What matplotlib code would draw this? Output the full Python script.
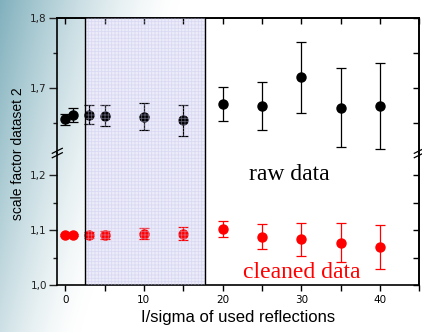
import numpy as np
import matplotlib
matplotlib.use("Agg")
import matplotlib.pyplot as plt
from matplotlib.lines import Line2D
from matplotlib.ticker import MultipleLocator, FuncFormatter

# ---------------- data ----------------
x_vals = [0, 1, 3, 5, 10, 15, 20, 25, 30, 35, 40]
raw_vals = [1.655, 1.661, 1.662, 1.660, 1.659, 1.654, 1.677, 1.674, 1.715, 1.672, 1.674]
raw_err = [0.008, 0.010, 0.013, 0.015, 0.019, 0.022, 0.024, 0.034, 0.051, 0.056, 0.061]
clean_vals = [1.091, 1.091, 1.091, 1.091, 1.093, 1.093, 1.102, 1.088, 1.083, 1.077, 1.070]
clean_err = [0.002, 0.002, 0.005, 0.007, 0.010, 0.012, 0.015, 0.023, 0.030, 0.035, 0.040]
shade_range = (2.5, 17.8)
xlabel = "I/sigma of used reflections"
ylabel = "scale factor dataset 2"
raw_label = "raw data"
clean_label = "cleaned data"

plt.rcParams["hatch.linewidth"] = 0.6

W, H = 422, 332
fig = plt.figure(figsize=(W / 100, H / 100), dpi=100)

# background gradient
bg = fig.add_axes([0, 0, 1, 1], zorder=-10)
yy, xx = np.mgrid[0:H, 0:W]
fy = 1 - yy / H
A = 0.35 + 0.55 * fy
S = 80 + 100 * fy
w = A * np.clip(1 - xx / S, 0, 1) ** 1.5
teal = np.array([115, 168, 182]) / 255.0
img = 1 - w[..., None] * (1 - teal[None, None, :])
bg.imshow(img, aspect="auto", extent=[0, 1, 0, 1])
bg.set_axis_off()

L = 57.3 / W
R = 419.3 / W
ytop = 1 - 18 / H
ybrk = 1 - 153 / H
ybot = 1 - 285 / H

ax_t = fig.add_axes([L, ybrk, R - L, ytop - ybrk], facecolor="none")
ax_b = fig.add_axes([L, ybot, R - L, ybrk - ybot], facecolor="none")

fmt = FuncFormatter(lambda v, p: f"{v:.1f}".replace(".", ","))

for ax in (ax_t, ax_b):
    ax.set_xlim(-1, 45)
    ax.axvspan(*shade_range, facecolor="#ececf9", edgecolor="none", zorder=0)
    ax.axvspan(*shade_range, facecolor="none", edgecolor="#c4c4ee", hatch="+++++",
               linewidth=0, zorder=5, alpha=0.45)
    for xv in shade_range:
        ax.axvline(xv, color="black", lw=1.0, zorder=6)
    ax.yaxis.set_major_locator(MultipleLocator(0.1))
    ax.yaxis.set_minor_locator(MultipleLocator(0.05))
    ax.yaxis.set_major_formatter(fmt)
    ax.tick_params(axis="y", which="major", direction="out", length=6, width=1,
                   labelsize=7.5, pad=1.5, right=False, colors="#222222")
    ax.tick_params(axis="y", which="minor", direction="out", length=3, width=1,
                   right=False, colors="#222222")
    for s in ax.spines.values():
        s.set_linewidth(1.2)
    sec = ax.secondary_yaxis("right")
    sec.yaxis.set_major_locator(MultipleLocator(0.05))
    sec.tick_params(direction="in", length=4, width=1, labelright=False)
    sec.spines["right"].set_linewidth(1.2)

ax_t.set_ylim(1.6071, 1.8)
ax_b.set_ylim(1.0, 1.24)
ax_t.spines["bottom"].set_visible(False)
ax_b.spines["top"].set_visible(False)
ax_t.tick_params(axis="x", bottom=False, labelbottom=False)

ax_b.xaxis.set_major_locator(MultipleLocator(10))
ax_b.xaxis.set_minor_locator(MultipleLocator(5))
ax_b.tick_params(axis="x", which="both", direction="out", length=4, width=1,
                 labelsize=7.5, pad=3, top=False)
sec_x = ax_t.secondary_xaxis("top")
sec_x.xaxis.set_major_locator(MultipleLocator(5))
sec_x.tick_params(direction="in", length=4, width=1, labeltop=False)
sec_x.spines["top"].set_linewidth(1.2)

ax_t.errorbar(x_vals, raw_vals, yerr=raw_err, fmt="o", color="black", ms=6.5,
              elinewidth=0.9, capsize=3.5, capthick=0.9, zorder=3)
ax_b.errorbar(x_vals, clean_vals, yerr=clean_err, fmt="o", color="#ff0000", ms=6.5,
              elinewidth=0.9, capsize=3.5, capthick=0.9, zorder=3)

ax_b.text(28.5, 1.2, raw_label, fontsize=17, family="Liberation Serif",
          color="black", ha="center", va="center")
ax_b.text(30.0, 1.022, clean_label, fontsize=17, family="Liberation Serif",
          color="#ff0000", ha="center", va="center")

ax_b.set_xlabel(xlabel, fontsize=12, family="Liberation Sans", labelpad=4)
fig.text(18 / W, 1 - 154 / H, ylabel, rotation=90, fontsize=10,
         family="Liberation Sans", ha="center", va="center")

# break marks
for xs in (L, R):
    for dy in (-2.2, 2.2):
        yc = ybrk + dy / H
        fig.add_artist(Line2D([xs - 5 / W, xs + 5 / W], [yc - 2.5 / H, yc + 2.5 / H],
                              color="black", lw=0.9, transform=fig.transFigure))

fig.savefig("out.png", dpi=100)
